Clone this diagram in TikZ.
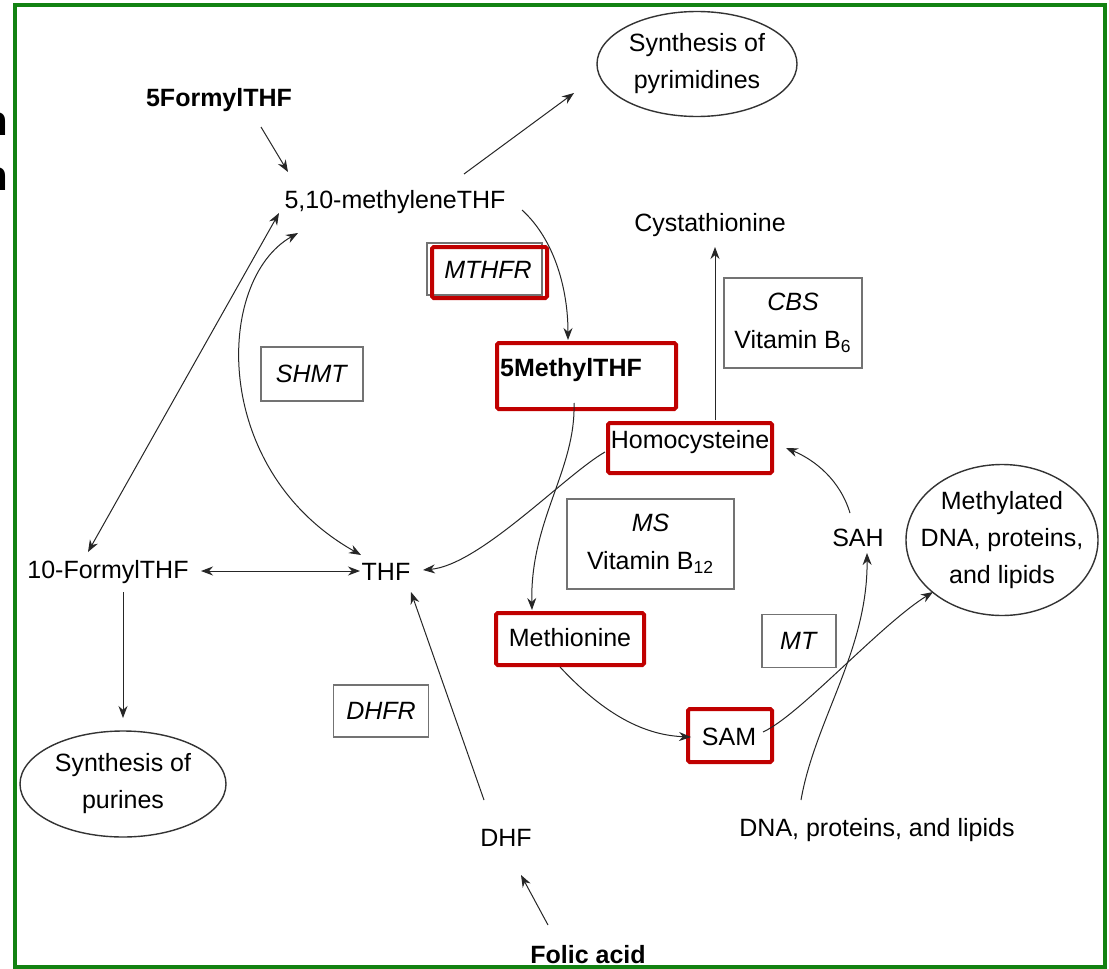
\documentclass[tikz,border=0pt]{standalone}
\usepackage{fontspec}
\setmainfont{Liberation Sans}
\usepackage{tikz}
\usetikzlibrary{arrows.meta,shapes.geometric}
\definecolor{framegreen}{RGB}{18,130,18}
\definecolor{markred}{RGB}{192,0,0}

\begin{document}
\begin{tikzpicture}[x=0.5pt,y=-0.5pt,font=\fontsize{12.5}{15}\selectfont,
    metab/.style={inner sep=1pt},
    enzyme/.style={draw=black!55,line width=0.8pt,inner sep=0pt,align=center,font=\fontsize{12.5}{19}\selectfont},
    redbox/.style={draw=markred,line width=2pt,rounded corners=0.8pt,inner sep=0pt},
    fate/.style={ellipse,draw=black!80,line width=0.7pt,inner sep=0pt,align=center,font=\fontsize{12.5}{18.5}\selectfont},
    arr/.style={-{Stealth[length=6pt,width=4.5pt]},line width=0.5pt,draw=black!85},
    darr/.style={{Stealth[length=6pt,width=4.5pt]}-{Stealth[length=6pt,width=4.5pt]},line width=0.5pt,draw=black!85}]
  \fill[white] (0,0) rectangle (1109,969);
  \useasboundingbox (0,0) rectangle (1109,969);
  % cut-off letters left of the frame
  \node[anchor=base east,inner sep=0pt,font=\fontsize{21}{21}\selectfont\bfseries] (cutA) at (9,135) {n};
  \node[anchor=base east,inner sep=0pt,font=\fontsize{21}{21}\selectfont\bfseries] (cutB) at (9,190) {n};
  \draw[framegreen,line width=1.6pt] (15,5) rectangle (1105,967);

  % folate side
  \node[metab,font=\fontsize{12.5}{15}\selectfont\bfseries] (formyl) at (219,100) {5FormylTHF};
  \node[metab] (mthf) at (395,202) {5,10-methyleneTHF};
  \node[fate,minimum width=100pt,minimum height=52.5pt] (pyr) at (697,64) {Synthesis of\\pyrimidines};
  \node[metab] (formyl10) at (108,572) {10-FormylTHF};
  \node[metab] (thf) at (386,572) {THF};
  \node[fate,minimum width=103pt,minimum height=53pt] (purines) at (123,784) {Synthesis of\\purines};
  \node[metab] (dhf) at (506,838) {DHF};
  \node[metab,font=\fontsize{12.5}{15}\selectfont\bfseries] (folic) at (588,955) {Folic acid};
  \node[enzyme,minimum width=51pt,minimum height=27pt] (shmt) at (312,374) {\textit{SHMT}};
  \node[enzyme,minimum width=47.5pt,minimum height=26pt] (dhfr) at (381,711) {\textit{DHFR}};
  \node[enzyme,minimum width=57.5pt,minimum height=26pt] (mthfr) at (484.5,269) {\phantom{M}};
  \node[redbox,minimum width=57.5pt,minimum height=25.5pt] (mthfrbox) at (489.5,272.5) {};
  \node[metab,font=\fontsize{12.5}{15}\selectfont\itshape] (mthfrtxt) at (488,270) {MTHFR};
  \node[metab,font=\fontsize{12.5}{15}\selectfont\bfseries] (methyl) at (571,370) {5MethylTHF};
  \node[redbox,minimum width=89.5pt,minimum height=33pt] (methylbox) at (586.5,376) {};

  % methionine cycle
  \node[metab] (cysta) at (710,225) {Cystathionine};
  \node[enzyme,minimum width=69pt,minimum height=45pt] (cbs) at (793,323) {\textit{CBS}\\Vitamin B\textsubscript{6}};
  \node[metab] (hcy) at (690,442) {Homocysteine};
  \node[redbox,minimum width=82pt,minimum height=25pt] (hcybox) at (690,448) {};
  \node[enzyme,minimum width=83.5pt,minimum height=45pt] (ms) at (650.5,544) {\textit{MS}\\Vitamin B\textsubscript{12}};
  \node[metab] (sah) at (858,538) {SAH};
  \node[fate,inner xsep=-7pt,inner ysep=2pt,minimum width=96pt,minimum height=75.5pt] (methyld) at (1002,540) {Methylated\\DNA, proteins,\\and lipids};
  \node[metab] (met) at (570,638) {Methionine};
  \node[redbox,minimum width=74pt,minimum height=26pt] (metbox) at (570,639) {};
  \node[enzyme,minimum width=37pt,minimum height=26.5pt] (mt) at (799,641) {\textit{MT}};
  \node[metab] (sam) at (729,737) {SAM};
  \node[redbox,minimum width=42pt,minimum height=26.5pt] (sambox) at (730,735.5) {};
  \node[metab] (dna) at (877,830) {DNA, proteins, and lipids};

  % connectors
  \draw[arr] ([shift={(42,27)}]formyl.center) -- ([shift={(-107,-30)}]mthf.center);
  \draw[arr] ([shift={(69,-28)}]mthf.center) -- ([shift={(-123,29)}]pyr.center);
  \draw[arr] ([shift={(127,8)}]mthf.center) .. controls (555,240) and (568,290) .. ([shift={(-3,-30)}]methyl.center);
  \draw[darr] ([shift={(-20,-20)}]formyl10.center) -- ([shift={(-116,11)}]mthf.center);
  \draw[darr] ([shift={(-97,31)}]mthf.center) .. controls (215,280) and (210,470) .. ([shift={(-25,-17)}]thf.center);
  \draw[darr] ([shift={(93,-1)}]formyl10.center) -- ([shift={(-26,-1)}]thf.center);
  \draw[arr] ([shift={(15,20)}]formyl10.center) -- ([shift={(0,-66)}]purines.center);
  \draw[arr] ([shift={(-22,-38)}]dhf.center) -- ([shift={(25,20)}]thf.center);
  \draw[arr] ([shift={(-40,-30)}]folic.center) -- ([shift={(15,37)}]dhf.center);
  \draw[arr] ([shift={(-85,10)}]hcy.center) .. controls (565,475) and (480,565) .. ([shift={(37,-2)}]thf.center);
  \draw[arr] ([shift={(3,33)}]methyl.center) .. controls (576,470) and (530,520) .. ([shift={(-38,-28)}]met.center);
  \draw[arr] ([shift={(25,-22)}]hcy.center) -- ([shift={(5,22)}]cysta.center);
  \draw[arr] ([shift={(-8,-25)}]sah.center) .. controls (840,480) and (815,460) .. ([shift={(96,6)}]hcy.center);
  \draw[arr] ([shift={(-10,29)}]met.center) .. controls (600,710) and (640,735) .. ([shift={(-38,0)}]sam.center);
  \draw[arr] ([shift={(34,-5)}]sam.center) .. controls (800,715) and (880,625) .. ([shift={(-69,52)}]methyld.center);
  \draw[arr] ([shift={(-76,-30)}]dna.center) .. controls (815,720) and (868,650) .. ([shift={(9,15)}]sah.center);
\end{tikzpicture}
\end{document}
